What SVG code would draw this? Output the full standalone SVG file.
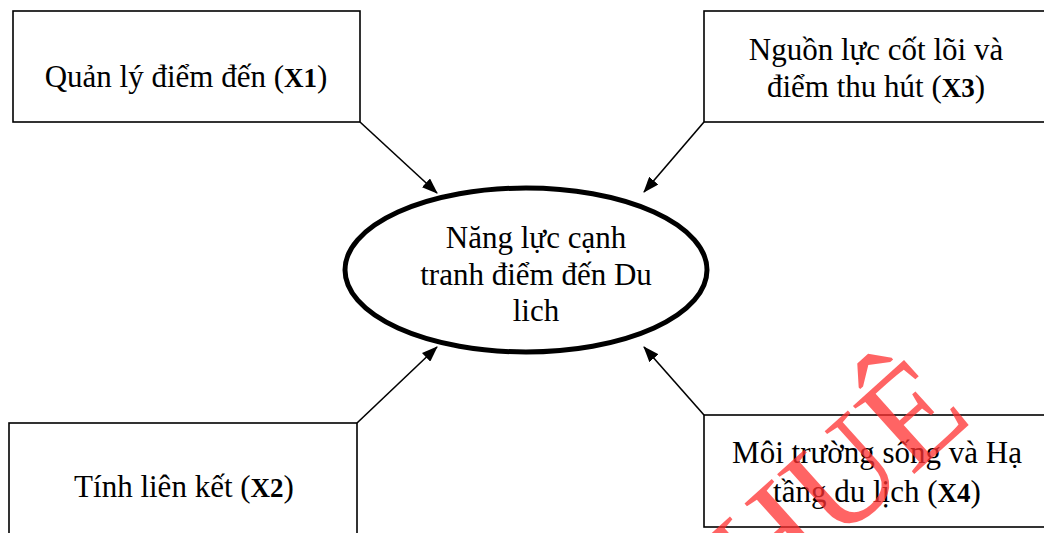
<svg xmlns="http://www.w3.org/2000/svg" width="1044" height="533" viewBox="0 0 1044 533">
  <style>
    .box { fill: #ffffff; stroke: #000000; stroke-width: 1.6; }
    .hub { fill: #ffffff; stroke: #000000; stroke-width: 5; }
    .lbl { font-family: "Liberation Serif", "Times New Roman", serif; font-size: 31px; fill: #000000; text-anchor: middle; }
    .lbl .b { font-weight: bold; font-size: 27px; }
    .link { stroke: #000000; stroke-width: 1.6; fill: none; marker-end: url(#head); }
    .mark { font-family: "Liberation Serif", "Times New Roman", serif; font-size: 140px; fill: #ff3030; fill-opacity: 0.75; }
  </style>
  <defs>
    <marker id="head" viewBox="0 0 16 12" refX="15" refY="6" markerWidth="16" markerHeight="12" markerUnits="userSpaceOnUse" orient="auto">
      <path d="M0,0 L16,6 L0,12 Z" fill="#000000"/>
    </marker>
  </defs>

  <rect width="1044" height="533" fill="#ffffff"/>

  <!-- connectors -->
  <g id="connectors">
    <line class="link" x1="360" y1="122" x2="437" y2="193"/>
    <line class="link" x1="704" y1="122" x2="644" y2="192"/>
    <line class="link" x1="357" y1="423" x2="437" y2="347"/>
    <line class="link" x1="704" y1="415" x2="644" y2="347"/>
  </g>

  <!-- X1 -->
  <g id="node-x1">
    <rect class="box" x="13" y="11" width="347" height="111"/>
    <text class="lbl" x="186" y="87">Quản lý điểm đến <tspan>(</tspan><tspan class="b">X1</tspan><tspan>)</tspan></text>
  </g>

  <!-- X3 -->
  <g id="node-x3">
    <rect class="box" x="704" y="11" width="345" height="111"/>
    <text class="lbl" x="876" y="60">Nguồn lực cốt lõi và</text>
    <text class="lbl" x="876" y="97">điểm thu hút <tspan>(</tspan><tspan class="b">X3</tspan><tspan>)</tspan></text>
  </g>

  <!-- X2 -->
  <g id="node-x2">
    <rect class="box" x="9" y="423" width="348" height="120"/>
    <text class="lbl" x="184" y="497">Tính liên kết <tspan>(</tspan><tspan class="b">X2</tspan><tspan>)</tspan></text>
  </g>

  <!-- X4 -->
  <g id="node-x4">
    <rect class="box" x="704" y="415" width="345" height="112"/>
    <text class="lbl" x="877" y="463">Môi trường sống và Hạ</text>
    <text class="lbl" x="877" y="502">tầng du lịch <tspan>(</tspan><tspan class="b">X4</tspan><tspan>)</tspan></text>
  </g>

  <!-- central concept -->
  <g id="node-hub">
    <ellipse class="hub" cx="526" cy="270" rx="181" ry="82"/>
    <text class="lbl" x="536" y="248">Năng lực cạnh</text>
    <text class="lbl" x="536" y="285">tranh điểm đến Du</text>
    <text class="lbl" x="536" y="321">lich</text>
  </g>

  <!-- watermark -->
  <text class="mark" transform="translate(761,612) rotate(-42)">HUÊ</text>
</svg>
